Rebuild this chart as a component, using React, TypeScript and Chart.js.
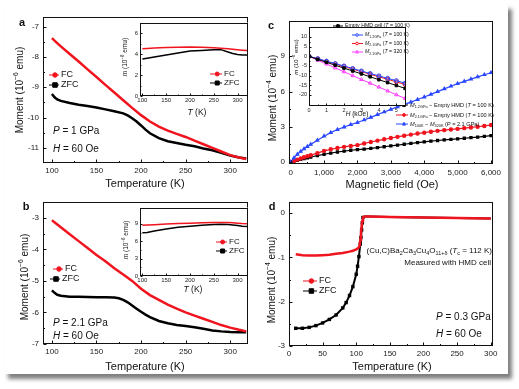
import React, { useEffect, useRef } from "react";
import { Chart, registerables } from "chart.js";
Chart.register(...registerables);

const FONT = '"Liberation Sans", Arial, "DejaVu Sans", sans-serif';
const RED = "#f0141e";
const BLACK = "#000000";
const BLUE = "#2a48ff";
const MAGENTA = "#ff3cff";

// ---------- Panel a ----------
const aT = [100, 105, 110, 120, 130, 140, 150, 160, 170, 180, 190, 200, 210, 220, 230, 240, 250, 260, 270, 280, 290, 300, 310, 318];
const aFC = [-7.38, -7.52, -7.65, -7.9, -8.15, -8.41, -8.66, -8.92, -9.17, -9.43, -9.68, -9.92, -10.13, -10.3, -10.43, -10.54, -10.64, -10.76, -10.88, -11.0, -11.12, -11.24, -11.32, -11.37];
const aZT = [100, 103, 106, 110, 120, 130, 140, 150, 160, 170, 180, 185, 190, 195, 200, 205, 210, 220, 230, 240, 250, 260, 270, 280, 290, 300, 310, 318];
const aZFC = [-9.22, -9.33, -9.4, -9.45, -9.52, -9.58, -9.62, -9.67, -9.73, -9.79, -9.86, -9.93, -10.02, -10.13, -10.26, -10.4, -10.52, -10.68, -10.78, -10.84, -10.9, -10.95, -11.02, -11.08, -11.16, -11.25, -11.32, -11.35];
const aXTicks = [100, 150, 200, 250, 300];
const aYTicks = [-11, -10, -9, -8, -7];

// ---------- Panel b ----------
const bT = [100, 105, 110, 120, 130, 140, 150, 160, 170, 180, 190, 200, 210, 220, 230, 240, 250, 260, 270, 280, 290, 300, 310, 318];
const bFC = [-3.08, -3.19, -3.3, -3.52, -3.74, -3.96, -4.18, -4.38, -4.6, -4.8, -5.0, -5.25, -5.45, -5.6, -5.75, -5.88, -6.0, -6.1, -6.2, -6.3, -6.4, -6.48, -6.55, -6.6];
const bZT = [100, 103, 106, 110, 120, 130, 140, 150, 160, 170, 175, 180, 185, 190, 195, 200, 205, 210, 220, 230, 240, 250, 260, 270, 280, 290, 300, 310, 318];
const bZFC = [-5.3, -5.38, -5.44, -5.47, -5.5, -5.5, -5.51, -5.52, -5.52, -5.53, -5.55, -5.6, -5.68, -5.78, -5.88, -5.98, -6.07, -6.15, -6.27, -6.34, -6.4, -6.43, -6.47, -6.52, -6.57, -6.6, -6.62, -6.63, -6.63];
const bYTicks = [-7, -6, -5, -4, -3];

// ---------- Insets a / b ----------
const insetT = [100, 110, 125, 150, 175, 200, 225, 250, 265, 280, 290, 300, 310, 320];
const iaFC = [4.5, 4.53, 4.57, 4.62, 4.66, 4.68, 4.66, 4.6, 4.55, 4.5, 4.45, 4.4, 4.36, 4.33];
const iaZFC = [3.52, 3.6, 3.72, 3.9, 4.1, 4.28, 4.35, 4.4, 4.42, 4.2, 4.05, 3.95, 3.92, 3.9];
const ibFC = [8.75, 8.8, 8.85, 8.95, 9.05, 9.12, 9.2, 9.25, 9.25, 9.22, 9.18, 9.12, 9.05, 9.0];
const ibZFC = [7.45, 7.5, 7.75, 8.1, 8.4, 8.6, 8.75, 8.9, 8.92, 8.9, 8.8, 8.7, 8.6, 8.55];
const insetXTicks = [100, 150, 200, 250, 300];
const iaYTicks = [0, 2, 4, 6];
const ibYTicks = [0, 3, 6, 9];

// ---------- Panel c ----------
const cH = [0, 100, 200, 300, 400, 500, 600, 800, 1000, 1200, 1400, 1600, 1800, 2000, 2200, 2400, 2600, 2800, 3000, 3200, 3400, 3600, 3800, 4000, 4200, 4400, 4600, 4800, 5000, 5200, 5400, 5600, 5800, 6000];
const cBlue = [0, 0.35, 0.65, 0.9, 1.12, 1.32, 1.5, 1.85, 2.2, 2.5, 2.76, 2.98, 3.18, 3.36, 3.58, 3.8, 4.03, 4.26, 4.48, 4.7, 4.9, 5.1, 5.32, 5.53, 5.76, 5.99, 6.22, 6.45, 6.67, 6.86, 7.05, 7.25, 7.43, 7.6];
const cRed = [0, 0.1, 0.2, 0.3, 0.4, 0.5, 0.58, 0.75, 0.95, 1.08, 1.19, 1.29, 1.37, 1.44, 1.58, 1.7, 1.82, 1.93, 2.04, 2.14, 2.24, 2.33, 2.42, 2.5, 2.58, 2.65, 2.71, 2.77, 2.82, 2.88, 2.94, 3.0, 3.07, 3.15];
const cBlack = [0, 0.07, 0.15, 0.22, 0.3, 0.36, 0.42, 0.55, 0.66, 0.76, 0.85, 0.93, 1.0, 1.05, 1.1, 1.16, 1.22, 1.3, 1.37, 1.44, 1.51, 1.58, 1.65, 1.72, 1.78, 1.83, 1.88, 1.93, 1.97, 2.02, 2.07, 2.12, 2.18, 2.24];
const cXTicks = [0, 1000, 2000, 3000, 4000, 5000, 6000];
const cYTicks = [0, 3, 6, 9];

// ---------- Inset c ----------
const icH = [0, 0.5, 1, 1.5, 2, 2.5, 3, 3.5, 4, 4.5, 5, 5.5];
const icEmpty = [0, -1.6, -3.1, -4.6, -6.1, -7.6, -9.1, -10.6, -12.1, -13.6, -15.1, -16.6];
const icBlue = [0, -1.25, -2.5, -3.75, -5.0, -6.3, -7.6, -8.9, -10.1, -11.4, -12.6, -13.9];
const icRed = [0, -1.3, -2.65, -4.0, -5.3, -6.6, -7.95, -9.3, -10.6, -11.9, -13.2, -14.6];
const icMag = [0, -2.0, -4.0, -6.0, -8.0, -10.0, -12.0, -13.9, -15.9, -17.9, -19.9, -21.8];
const icXTicks = [0, 1, 2, 3, 4, 5];
const icYTicks = [-20, -15, -10, -5, 0, 5, 10];

// ---------- Panel d ----------
const dT = [10, 20, 30, 40, 50, 60, 70, 80, 90, 95, 100, 103, 105, 106, 107, 108, 109, 110, 112, 120, 150, 200, 250, 300];
const dFC = [-0.93, -0.95, -0.96, -0.96, -0.95, -0.94, -0.92, -0.9, -0.87, -0.85, -0.82, -0.79, -0.74, -0.6, -0.45, -0.3, -0.18, -0.1, -0.08, -0.08, -0.09, -0.1, -0.11, -0.12];
const dZT = [10, 20, 30, 40, 50, 60, 70, 80, 85, 90, 95, 100, 102, 104, 106, 107, 108, 109, 110, 112, 120, 150, 200, 250, 300];
const dZFC = [-2.6, -2.6, -2.58, -2.54, -2.48, -2.4, -2.3, -2.14, -2.02, -1.86, -1.66, -1.38, -1.2, -0.98, -0.7, -0.55, -0.38, -0.22, -0.1, -0.08, -0.08, -0.09, -0.1, -0.11, -0.12];
const dXTicks = [0, 50, 100, 150, 200, 250, 300];
const dYTicks = [-3, -2, -1, 0];

// ---------- helpers ----------
type Seg = { t: string; i?: boolean; b?: boolean; sub?: boolean; sup?: boolean };
type Txt = { x: number; y: number; size: number; segs: Seg[]; align?: "left" | "center" | "right"; rot?: boolean };
type Leg = { x1: number; x2: number; mx: number; y: number; color: string; style: string; fill: boolean; tx: number; size: number; segs: Seg[] };
type Decor = { texts?: Txt[]; legends?: Leg[]; fillArea?: boolean; tick: number };

function segFont(s: Seg, size: number) {
  const sz = s.sub || s.sup ? size * 0.68 : size;
  return `${s.i ? "italic " : ""}${s.b ? "bold " : ""}${sz}px ${FONT}`;
}

function drawRich(ctx: CanvasRenderingContext2D, t: Txt) {
  ctx.save();
  let w = 0;
  for (const s of t.segs) {
    ctx.font = segFont(s, t.size);
    w += ctx.measureText(s.t).width;
  }
  ctx.translate(t.x, t.y);
  if (t.rot) ctx.rotate(-Math.PI / 2);
  let x = t.align === "left" ? 0 : t.align === "right" ? -w : -w / 2;
  ctx.textBaseline = "middle";
  ctx.textAlign = "left";
  ctx.fillStyle = "#111";
  for (const s of t.segs) {
    ctx.font = segFont(s, t.size);
    const dy = s.sup ? -t.size * 0.35 : s.sub ? t.size * 0.3 : 0;
    ctx.fillText(s.t, x, dy);
    x += ctx.measureText(s.t).width;
  }
  ctx.restore();
}

function drawMarker(ctx: CanvasRenderingContext2D, style: string, x: number, y: number, r: number, color: string, fill: boolean) {
  ctx.beginPath();
  if (style === "circle") ctx.arc(x, y, r, 0, Math.PI * 2);
  else if (style === "rect") ctx.rect(x - r, y - r, 2 * r, 2 * r);
  else {
    ctx.moveTo(x, y - r * 1.2);
    ctx.lineTo(x + r * 1.05, y + r * 0.8);
    ctx.lineTo(x - r * 1.05, y + r * 0.8);
    ctx.closePath();
  }
  ctx.fillStyle = fill ? color : "#fff";
  ctx.fill();
  ctx.strokeStyle = color;
  ctx.lineWidth = 1;
  ctx.stroke();
}

function makeDecor(cfg: Decor & { ox: number; oy: number }) {
  return {
    id: "decor",
    beforeDraw(chart: any) {
      if (!cfg.fillArea) return;
      const { ctx, chartArea: ca } = chart;
      ctx.save();
      ctx.fillStyle = "#fff";
      ctx.fillRect(ca.left, ca.top, ca.right - ca.left, ca.bottom - ca.top);
      ctx.restore();
    },
    afterDraw(chart: any) {
      const { ctx, chartArea: ca } = chart;
      ctx.save();
      ctx.strokeStyle = "#111";
      ctx.lineWidth = 1;
      const L = Math.round(ca.left) + 0.5;
      const T = Math.round(ca.top) + 0.5;
      const R = Math.round(ca.right) - 0.5;
      const B = Math.round(ca.bottom) - 0.5;
      ctx.strokeRect(L, T, R - L, B - T);
      const tl = cfg.tick;
      const xs = chart.scales.x;
      const ys = chart.scales.y;
      ctx.beginPath();
      const xt = xs.ticks.map((t: any) => t.value);
      xt.forEach((v: number, i: number) => {
        const p = Math.round(xs.getPixelForValue(v)) + 0.5;
        ctx.moveTo(p, B);
        ctx.lineTo(p, B - tl);
        if (i < xt.length - 1) {
          const q = Math.round(xs.getPixelForValue((v + xt[i + 1]) / 2)) + 0.5;
          ctx.moveTo(q, B);
          ctx.lineTo(q, B - tl / 2);
        }
      });
      const yt = ys.ticks.map((t: any) => t.value);
      yt.forEach((v: number, i: number) => {
        const p = Math.round(ys.getPixelForValue(v)) + 0.5;
        ctx.moveTo(L, p);
        ctx.lineTo(L + tl, p);
        if (i < yt.length - 1) {
          const q = Math.round(ys.getPixelForValue((v + yt[i + 1]) / 2)) + 0.5;
          ctx.moveTo(L, q);
          ctx.lineTo(L + tl / 2, q);
        }
      });
      ctx.stroke();
      ctx.translate(-cfg.ox, -cfg.oy);
      for (const lg of cfg.legends || []) {
        ctx.beginPath();
        ctx.strokeStyle = lg.color;
        ctx.lineWidth = 1;
        ctx.moveTo(lg.x1, lg.y);
        ctx.lineTo(lg.x2, lg.y);
        ctx.stroke();
        drawMarker(ctx, lg.style, lg.mx, lg.y, lg.size * 0.25, lg.color, lg.fill);
        drawRich(ctx, { x: lg.tx, y: lg.y, size: lg.size, segs: lg.segs, align: "left" });
      }
      for (const t of cfg.texts || []) drawRich(ctx, t);
      ctx.restore();
    },
  };
}

function xy(xs: number[], ys: number[]) {
  return xs.map((x, i) => ({ x, y: ys[i] }));
}

function lineDs(xs: number[], ys: number[], color: string, extra: any = {}) {
  return {
    data: xy(xs, ys),
    borderColor: color,
    backgroundColor: color,
    borderWidth: 2.5,
    pointRadius: 0,
    tension: 0,
    ...extra,
  };
}

function axis(min: number, max: number, ticks: number[], size: number, pad: number, fmt?: (v: any) => string) {
  const t: any = { font: { family: FONT, size }, color: "#222", padding: pad, maxRotation: 0, autoSkip: false };
  if (fmt) t.callback = fmt;
  return {
    type: "linear",
    min,
    max,
    afterBuildTicks: (s: any) => {
      s.ticks = ticks.map((v) => ({ value: v }));
    },
    grid: { display: false, drawTicks: false },
    border: { display: false },
    ticks: t,
    title: { display: false },
  };
}

type PanelProps = {
  area: number[];
  m: number[];
  datasets: any[];
  x: any;
  y: any;
  decor: Decor;
};

function Panel({ area, m, datasets, x, y, decor }: PanelProps) {
  const ref = useRef<HTMLCanvasElement>(null);
  const [l, t, r, b] = area;
  const [ml, mt, mr, mb] = m;
  const W = r - l + ml + mr;
  const H = b - t + mt + mb;
  const ox = l - ml;
  const oy = t - mt;
  useEffect(() => {
    if (!ref.current) return;
    const chart = new Chart(ref.current, {
      type: "line",
      data: { datasets },
      options: {
        responsive: false,
        maintainAspectRatio: false,
        animation: false,
        devicePixelRatio: 1,
        layout: { padding: { left: 0, top: mt, right: mr, bottom: 0 } },
        plugins: { legend: { display: false }, tooltip: { enabled: false }, title: { display: false } },
        scales: {
          x: { ...x, afterFit: (s: any) => { s.height = mb; } },
          y: { ...y, afterFit: (s: any) => { s.width = ml; } },
        },
      } as any,
      plugins: [makeDecor({ ...decor, ox, oy }) as any],
    });
    return () => chart.destroy();
  }, []);
  return (
    <canvas
      ref={ref}
      width={W}
      height={H}
      style={{ position: "absolute", left: ox, top: oy, width: W, height: H }}
    />
  );
}

const momentTitle = (x: number, y: number, exp: string): Txt => ({
  x, y, size: 10, rot: true,
  segs: [{ t: "Moment (10" }, { t: exp, sup: true }, { t: " emu)" }],
});
const label = (x: number, y: number, s: string): Txt => ({ x, y, size: 11, segs: [{ t: s, b: true }] });
const fcLeg = (x1: number, y: number, size: number, w = 10): Leg => ({
  x1, x2: x1 + w, mx: x1 + w * 0.6, y, color: RED, style: "circle", fill: true, tx: x1 + w + 2, size, segs: [{ t: "FC" }],
});
const zfcLeg = (x1: number, y: number, size: number, w = 10): Leg => ({
  x1, x2: x1 + w, mx: x1 + w * 0.6, y, color: BLACK, style: "rect", fill: true, tx: x1 + w + 2, size, segs: [{ t: "ZFC" }],
});

export default function App() {
  return (
    <div style={{ position: "absolute", left: 0, top: 0, width: 519, height: 389, background: "#fff", overflow: "hidden" }}>
      <div
        style={{
          position: "absolute", left: 4, top: 4, width: 504, height: 370, background: "#fff",
          boxShadow: "4px 5px 4px rgba(0,0,0,0.5)",
        }}
      />
      {/* Panel a */}
      <Panel
        area={[43, 17, 248, 163]}
        m={[43, 17, 10, 29]}
        datasets={[lineDs(aT, aFC, RED), lineDs(aZT, aZFC, BLACK)]}
        x={axis(90, 320, aXTicks, 8, 3)}
        y={axis(-11.5, -6.68, aYTicks, 8, 4)}
        decor={{
          tick: 3,
          texts: [
            label(22, 23, "a"),
            momentTitle(20, 90, "−6"),
            { x: 145, y: 184, size: 11, segs: [{ t: "Temperature (K)" }] },
            { x: 53, y: 131, size: 10, align: "left", segs: [{ t: "P", i: true }, { t: " = 1 GPa" }] },
            { x: 53, y: 149, size: 10, align: "left", segs: [{ t: "H", i: true }, { t: " = 60 Oe" }] },
          ],
          legends: [fcLeg(49, 75, 9), zfcLeg(49, 85, 9)],
        }}
      />
      {/* Inset a */}
      <Panel
        area={[140, 17, 248, 96]}
        m={[22, 0, 2, 22]}
        datasets={[lineDs(insetT, iaFC, RED, { borderWidth: 1.5 }), lineDs(insetT, iaZFC, BLACK, { borderWidth: 1.5 })]}
        x={axis(95, 322, insetXTicks, 6, 1)}
        y={axis(0, 7, iaYTicks, 6, 2)}
        decor={{
          tick: 2,
          fillArea: true,
          texts: [
            { x: 125, y: 57, size: 6.5, rot: true, segs: [{ t: "m", i: true }, { t: " (10" }, { t: "−6", sup: true }, { t: " emu)" }] },
            { x: 197, y: 113, size: 8.5, segs: [{ t: "T", i: true }, { t: " (K)" }] },
          ],
          legends: [fcLeg(210, 74, 8, 12), zfcLeg(210, 83, 8, 12)],
        }}
      />
      {/* Panel b */}
      <Panel
        area={[43, 202, 248, 344]}
        m={[43, 12, 10, 33]}
        datasets={[lineDs(bT, bFC, RED), lineDs(bZT, bZFC, BLACK)]}
        x={axis(90, 320, aXTicks, 8, 3)}
        y={axis(-7, -2.5, bYTicks, 8, 4)}
        decor={{
          tick: 3,
          texts: [
            label(26, 207, "b"),
            momentTitle(25, 277, "−6"),
            { x: 145, y: 367, size: 11, segs: [{ t: "Temperature (K)" }] },
            { x: 53, y: 323, size: 10, align: "left", segs: [{ t: "P", i: true }, { t: " = 2.1 GPa" }] },
            { x: 53, y: 336, size: 10, align: "left", segs: [{ t: "H", i: true }, { t: " = 60 Oe" }] },
          ],
          legends: [fcLeg(53, 269, 9), zfcLeg(50, 279, 9)],
        }}
      />
      {/* Inset b */}
      <Panel
        area={[140, 202, 248, 276]}
        m={[22, 0, 2, 20]}
        datasets={[lineDs(insetT, ibFC, RED, { borderWidth: 1.5 }), lineDs(insetT, ibZFC, BLACK, { borderWidth: 1.5 })]}
        x={axis(95, 322, insetXTicks, 6, 1)}
        y={axis(0, 11.8, ibYTicks, 6, 2)}
        decor={{
          tick: 2,
          fillArea: true,
          texts: [
            { x: 126, y: 240, size: 6.5, rot: true, segs: [{ t: "m", i: true }, { t: " (10" }, { t: "−6", sup: true }, { t: " emu)" }] },
            { x: 193, y: 290, size: 8.5, segs: [{ t: "T", i: true }, { t: " (K)" }] },
          ],
          legends: [fcLeg(216, 242, 8, 11), zfcLeg(216, 251, 8, 11)],
        }}
      />
      {/* Panel c */}
      <Panel
        area={[289, 21, 493, 164]}
        m={[27, 21, 26, 28]}
        datasets={[
          lineDs(cH, cBlue, BLUE, { borderWidth: 1.2, pointRadius: 1.6, pointStyle: "triangle" }),
          lineDs(cH, cRed, RED, { borderWidth: 1.2, pointRadius: 1.6, pointStyle: "circle" }),
          lineDs(cH, cBlack, BLACK, { borderWidth: 1.2, pointRadius: 1.5, pointStyle: "rect" }),
        ]}
        x={axis(-50, 6060, cXTicks, 8, 4, (v: any) => Number(v).toLocaleString("en-US"))}
        y={axis(-0.17, 12, cYTicks, 8, 4)}
        decor={{
          tick: 3,
          texts: [
            label(271, 26, "c"),
            momentTitle(273, 98, "−4"),
            { x: 392, y: 185, size: 11, segs: [{ t: "Magnetic field (Oe)" }] },
          ],
          legends: [
            { x1: 396, x2: 408, mx: 404, y: 105, color: BLACK, style: "rect", fill: true, tx: 410, size: 5.6,
              segs: [{ t: "M", i: true }, { t: "1.2GPa", sub: true }, { t: " − Empty HMD (" }, { t: "T", i: true }, { t: " = 100 K)" }] },
            { x1: 396, x2: 408, mx: 404, y: 115, color: RED, style: "circle", fill: true, tx: 410, size: 5.6,
              segs: [{ t: "M", i: true }, { t: "2.1GPa", sub: true }, { t: " − Empty HMD (" }, { t: "T", i: true }, { t: " = 100 K)" }] },
            { x1: 396, x2: 408, mx: 404, y: 124, color: BLUE, style: "triangle", fill: true, tx: 410, size: 5.6,
              segs: [{ t: "M", i: true }, { t: "100K", sub: true }, { t: " − " }, { t: "M", i: true }, { t: "320K", sub: true }, { t: " (" }, { t: "P", i: true }, { t: " = 2.1 GPa)" }] },
          ],
        }}
      />
      {/* Inset c */}
      <Panel
        area={[309, 22, 409, 106]}
        m={[20, 0, 2, 14]}
        datasets={[
          lineDs(icH, icEmpty, BLACK, { borderWidth: 1, pointRadius: 1.8, pointStyle: "rect" }),
          lineDs(icH, icBlue, BLUE, { borderWidth: 1, pointRadius: 2, pointStyle: "circle", pointBackgroundColor: "rgba(0,0,0,0)" }),
          lineDs(icH, icRed, RED, { borderWidth: 1, pointRadius: 2, pointStyle: "circle", pointBackgroundColor: "rgba(0,0,0,0)" }),
          lineDs(icH, icMag, MAGENTA, { borderWidth: 1, pointRadius: 2, pointStyle: "triangle", pointBackgroundColor: "rgba(0,0,0,0)" }),
        ]}
        x={axis(0, 5.55, icXTicks, 5.5, 1)}
        y={axis(-25.7, 15, icYTicks, 5.5, 2)}
        decor={{
          tick: 2,
          fillArea: true,
          texts: [
            { x: 296, y: 57, size: 6, rot: true, segs: [{ t: "m", i: true }, { t: " (10" }, { t: "−4", sup: true }, { t: " emu)" }] },
            { x: 357, y: 114, size: 6.5, segs: [{ t: "H", i: true }, { t: " (kOe)" }] },
          ],
          legends: [
            { x1: 333, x2: 343, mx: 338, y: 26, color: BLACK, style: "rect", fill: true, tx: 345, size: 5.2,
              segs: [{ t: "Empty HMD cell (" }, { t: "T", i: true }, { t: " = 100 K)" }] },
            { x1: 352, x2: 363, mx: 357, y: 35, color: BLUE, style: "circle", fill: false, tx: 365, size: 5.2,
              segs: [{ t: "M", i: true }, { t: "1.2GPa", sub: true }, { t: " (" }, { t: "T", i: true }, { t: " = 100 K)" }] },
            { x1: 352, x2: 363, mx: 357, y: 43.5, color: RED, style: "circle", fill: false, tx: 365, size: 5.2,
              segs: [{ t: "M", i: true }, { t: "2.1GPa", sub: true }, { t: " (" }, { t: "T", i: true }, { t: " = 100 K)" }] },
            { x1: 352, x2: 363, mx: 357, y: 52, color: MAGENTA, style: "triangle", fill: false, tx: 365, size: 5.2,
              segs: [{ t: "M", i: true }, { t: "2.1GPa", sub: true }, { t: " (" }, { t: "T", i: true }, { t: " = 320 K)" }] },
          ],
        }}
      />
      {/* Panel d */}
      <Panel
        area={[289, 202, 493, 346]}
        m={[27, 12, 26, 43]}
        datasets={[
          lineDs(dT, dFC, RED, { borderWidth: 2.5 }),
          lineDs(dZT, dZFC, BLACK, {
            borderWidth: 2,
            pointStyle: "rect",
            pointRadius: (c: any) => (c.raw && c.raw.x <= 110 ? 1 : 0),
          }),
        ]}
        x={axis(0, 303.4, dXTicks, 8, 3)}
        y={axis(-3, 0.25, dYTicks, 8, 4)}
        decor={{
          tick: 3,
          texts: [
            label(272, 207, "d"),
            momentTitle(272, 280, "−4"),
            { x: 392, y: 367, size: 11, segs: [{ t: "Temperature (K)" }] },
            { x: 492, y: 251, size: 8, align: "right",
              segs: [{ t: "(Cu,C)Ba" }, { t: "2", sub: true }, { t: "Ca" }, { t: "3", sub: true }, { t: "Cu" }, { t: "4", sub: true }, { t: "O" }, { t: "11+δ", sub: true }, { t: " (" }, { t: "T", i: true }, { t: "c", sub: true }, { t: " = 112 K)" }] },
            { x: 491, y: 263, size: 8, align: "right", segs: [{ t: "Measured with HMD cell" }] },
            { x: 436, y: 317, size: 10, align: "left", segs: [{ t: "P", i: true }, { t: " = 0.3 GPa" }] },
            { x: 436, y: 334, size: 10, align: "left", segs: [{ t: "H", i: true }, { t: " = 60 Oe" }] },
          ],
          legends: [fcLeg(303, 281, 9, 14), zfcLeg(303, 291, 9, 14)],
        }}
      />
    </div>
  );
}
